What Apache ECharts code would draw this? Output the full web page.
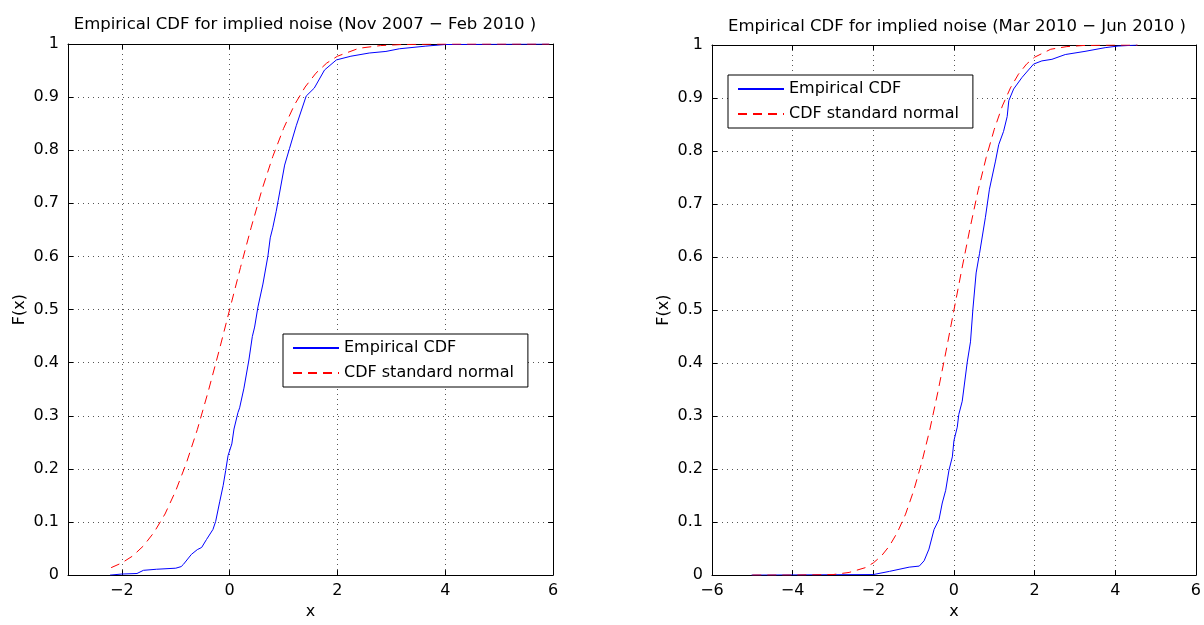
<!doctype html>
<html>
<head>
<meta charset="UTF-8">
<title>Empirical CDF for implied noise</title>
<script src="https://cdn.jsdelivr.net/npm/echarts@6/dist/echarts.min.js"></script>
<style>
  html, body { margin: 0; padding: 0; background: #fff; }
  #chart { width: 1204px; height: 625px; }
</style>
</head>
<body>
<div id="chart"></div>
<script>
// left panel: Nov 2007 - Feb 2010, [x, F(x)]
var empLeft = [
  [-2.22, 0], [-2.0, 0.002], [-1.72, 0.003], [-1.70, 0.006], [-1.6, 0.009], [-1.36, 0.011],
  [-1.0, 0.013], [-0.9, 0.016], [-0.86, 0.02], [-0.71, 0.039], [-0.6, 0.048], [-0.52, 0.052],
  [-0.43, 0.067], [-0.31, 0.086], [-0.26, 0.101], [-0.185, 0.138], [-0.12, 0.169], [-0.074, 0.197],
  [-0.03, 0.225], [0.04, 0.247], [0.08, 0.275], [0.154, 0.306], [0.185, 0.315], [0.265, 0.352],
  [0.357, 0.405], [0.42, 0.449], [0.463, 0.467], [0.525, 0.505], [0.617, 0.548], [0.71, 0.601],
  [0.753, 0.635], [0.80, 0.654], [0.864, 0.685], [0.9, 0.705], [1.02, 0.772], [1.11, 0.803],
  [1.235, 0.846], [1.42, 0.902], [1.57, 0.917], [1.76, 0.951], [1.98, 0.970], [2.25, 0.977],
  [2.59, 0.983], [2.90, 0.986], [3.15, 0.991], [3.64, 0.996], [4.0, 0.999], [5.93, 1.0]
];
var normLeft = [
  [-2.2, 0.014], [-2.0, 0.023], [-1.8, 0.036], [-1.6, 0.055], [-1.4, 0.081], [-1.2, 0.115],
  [-1.0, 0.159], [-0.8, 0.212], [-0.6, 0.274], [-0.4, 0.345], [-0.2, 0.421], [0, 0.5],
  [0.2, 0.579], [0.4, 0.655], [0.6, 0.726], [0.8, 0.788], [1.0, 0.841], [1.2, 0.885],
  [1.4, 0.919], [1.6, 0.945], [1.8, 0.964], [2.0, 0.977], [2.4, 0.992], [2.8, 0.997],
  [3.2, 0.999], [4.0, 1.0], [5.93, 1.0]
];

// right panel: Mar 2010 - Jun 2010
var empRight = [
  [-5.02, 0], [-2.0, 0.001], [-1.6, 0.007], [-1.11, 0.015], [-0.86, 0.017], [-0.74, 0.027],
  [-0.62, 0.049], [-0.494, 0.086], [-0.37, 0.105], [-0.29, 0.136], [-0.205, 0.16], [-0.123, 0.198],
  [-0.04, 0.223], [0, 0.254], [0.082, 0.279], [0.12, 0.303], [0.205, 0.328], [0.33, 0.402],
  [0.41, 0.44], [0.47, 0.502], [0.55, 0.57], [0.635, 0.607], [0.78, 0.675], [0.88, 0.728],
  [1.03, 0.781], [1.11, 0.812], [1.23, 0.837], [1.32, 0.865], [1.36, 0.895], [1.48, 0.917],
  [1.69, 0.939], [1.975, 0.964], [2.18, 0.970], [2.43, 0.973], [2.76, 0.982], [3.25, 0.988],
  [3.75, 0.995], [4.07, 0.998], [4.55, 1.0]
];
var normRight = [
  [-5.0, 0], [-4.0, 0.0], [-3.0, 0.001], [-2.6, 0.005], [-2.2, 0.014], [-2.0, 0.023],
  [-1.8, 0.036], [-1.6, 0.055], [-1.4, 0.081], [-1.2, 0.115], [-1.0, 0.159], [-0.8, 0.212],
  [-0.6, 0.274], [-0.4, 0.345], [-0.2, 0.421], [0, 0.5], [0.2, 0.579], [0.4, 0.655],
  [0.6, 0.726], [0.8, 0.788], [1.0, 0.841], [1.2, 0.885], [1.4, 0.919], [1.6, 0.945],
  [1.8, 0.964], [2.0, 0.977], [2.4, 0.992], [2.8, 0.997], [3.2, 0.999], [4.0, 1.0], [4.55, 1.0]
];

var xTicksLeft = [-2, 0, 2, 4, 6];
var xTicksRight = [-6, -4, -2, 0, 2, 4, 6];
var titles = ['Empirical CDF for implied noise (Nov 2007 \u2212 Feb 2010 )',
              'Empirical CDF for implied noise (Mar 2010 \u2212 Jun 2010 )'];
var names = ['Empirical CDF', 'CDF standard normal'];

var FONT = 'DejaVu Sans';
var txt = { fontFamily: FONT, fontSize: 16, color: '#000' };
var gridDots = { show: true, lineStyle: { color: '#555', width: 1, type: [1, 4] } };

function minus(v) {
  return String(v).replace('-', '\u2212');
}

// bottom axis with labels + top axis only for the box
function xAxes(gi, min, max, ticks) {
  return [{
    type: 'value', gridIndex: gi, position: 'bottom', min: min, max: max,
    name: 'x', nameLocation: 'middle', nameGap: 22, nameTextStyle: txt,
    axisLine: { show: true, onZero: false, lineStyle: { color: '#000', width: 1 } },
    axisTick: { inside: true, length: 5, customValues: ticks, lineStyle: { color: '#000' } },
    axisLabel: { customValues: ticks, margin: 8, formatter: minus, fontFamily: FONT, fontSize: 16, color: '#000' },
    splitLine: gridDots
  }, {
    type: 'value', gridIndex: gi, position: 'top', min: min, max: max,
    axisLine: { show: true, onZero: false, lineStyle: { color: '#000', width: 1 } },
    axisTick: { inside: true, length: 5, customValues: ticks, lineStyle: { color: '#000' } },
    axisLabel: { show: false },
    splitLine: { show: false }
  }];
}

function yAxes(gi) {
  return [{
    type: 'value', gridIndex: gi, position: 'left', min: 0, max: 1, interval: 0.1,
    name: 'F(x)', nameLocation: 'middle', nameGap: 40, nameTextStyle: txt,
    axisLine: { show: true, onZero: false, lineStyle: { color: '#000', width: 1 } },
    axisTick: { inside: true, length: 5, lineStyle: { color: '#000' } },
    axisLabel: { margin: 9, fontFamily: FONT, fontSize: 16, color: '#000' },
    splitLine: gridDots
  }, {
    type: 'value', gridIndex: gi, position: 'right', min: 0, max: 1, interval: 0.1,
    axisLine: { show: true, onZero: false, lineStyle: { color: '#000', width: 1 } },
    axisTick: { inside: true, length: 5, lineStyle: { color: '#000' } },
    axisLabel: { show: false },
    splitLine: { show: false }
  }];
}

function lineSeries(name, data, xi, yi, color, dashed) {
  return {
    name: name, type: 'line', xAxisIndex: xi, yAxisIndex: yi, data: data,
    symbol: 'none', animation: false, z: 3,
    lineStyle: { color: color, width: 1, type: dashed ? [9, 6] : 'solid' },
    itemStyle: { color: color }
  };
}

function legendAt(left, top) {
  return {
    data: names, orient: 'vertical', left: left, top: top,
    selectedMode: false, backgroundColor: '#fff',
    borderColor: '#000', borderWidth: 1, padding: [6, 14, 6, 9],
    itemWidth: 46, itemHeight: 14, itemGap: 9,
    // hide the marker dot, keep only the line sample
    itemStyle: { opacity: 0 },
    textStyle: { fontFamily: FONT, fontSize: 16, color: '#000' }
  };
}

var chart = echarts.init(document.getElementById('chart'));
chart.setOption({
  backgroundColor: '#fff',
  animation: false,
  title: [
    { text: titles[0], left: 300, top: 11, textAlign: 'center',
      textStyle: { fontFamily: FONT, fontSize: 16.5, fontWeight: 'normal', color: '#000' } },
    { text: titles[1], left: 952, top: 13, textAlign: 'center',
      textStyle: { fontFamily: FONT, fontSize: 16.5, fontWeight: 'normal', color: '#000' } }
  ],
  legend: [legendAt(283, 334), legendAt(728, 75)],
  grid: [
    { left: 68, top: 44, width: 485, height: 537 },
    { left: 712, top: 45, width: 486, height: 538 }
  ],
  xAxis: xAxes(0, -3, 6, xTicksLeft).concat(xAxes(1, -6, 6, xTicksRight)),
  yAxis: yAxes(0).concat(yAxes(1)),
  series: [
    lineSeries(names[0], empLeft, 0, 0, '#0000ff', false),
    lineSeries(names[1], normLeft, 0, 0, '#ff0000', true),
    lineSeries(names[0], empRight, 2, 2, '#0000ff', false),
    lineSeries(names[1], normRight, 2, 2, '#ff0000', true)
  ]
});
</script>
</body>
</html>
